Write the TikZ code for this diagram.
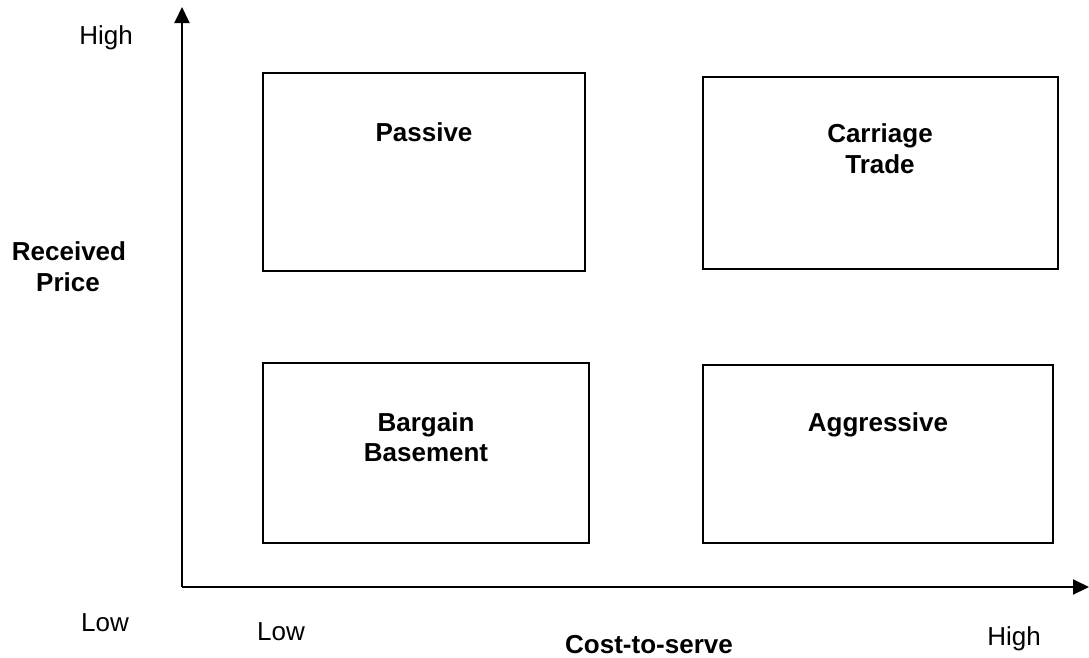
\documentclass[tikz,border=0pt]{standalone}
\usepackage{fontspec}
\setmainfont{Liberation Sans}
\usetikzlibrary{arrows.meta}
\begin{document}
\begin{tikzpicture}[x=1pt,y=-1pt,
  axis/.style={line width=2pt,-{Triangle[width=15pt,length=16pt]}},
  quad/.style={draw,line width=1.6pt,rectangle,inner sep=0pt},
  boldlbl/.style={font=\fontsize{26}{30}\selectfont\bfseries,inner sep=0pt,anchor=base},
  plainlbl/.style={font=\fontsize{26}{30}\selectfont,inner sep=0pt,anchor=base}]
\useasboundingbox (0,0) rectangle (1089,657);
% axes
\coordinate (origin) at (182,587);
\coordinate (ytip) at (182,7);
\coordinate (xtip) at (1089,587);
\draw[axis] (origin) -- (ytip);
\draw[axis] (origin) -- (xtip);
% quadrant boxes
\node[quad,minimum width=322pt,minimum height=198pt] (passive) at (424,172) {};
\node[quad,minimum width=355pt,minimum height=192pt] (carriage) at (880.5,173) {};
\node[quad,minimum width=326pt,minimum height=180pt] (bargain) at (426,453) {};
\node[quad,minimum width=350pt,minimum height=178pt] (aggressive) at (878,454) {};
% box labels
\node[boldlbl] (tpassive) at (424,141) {Passive};
\node[boldlbl] (tcarriage1) at (880,142) {Carriage};
\node[boldlbl] (tcarriage2) at (880,173) {Trade};
\node[boldlbl] (tbargain1) at (426,431) {Bargain};
\node[boldlbl] (tbargain2) at (426,461) {Basement};
\node[boldlbl] (taggressive) at (878,431) {Aggressive};
% axis labels
\node[plainlbl] (yhigh) at (106,44) {High};
\node[plainlbl] (ylow) at (105,631) {Low};
\node[boldlbl] (ytitle1) at (69,260) {Received};
\node[boldlbl] (ytitle2) at (68,291) {Price};
\node[plainlbl] (xlow) at (281,640) {Low};
\node[plainlbl] (xhigh) at (1014,645) {High};
\node[boldlbl] (xtitle) at (649,653) {Cost-to-serve};
\end{tikzpicture}
\end{document}
